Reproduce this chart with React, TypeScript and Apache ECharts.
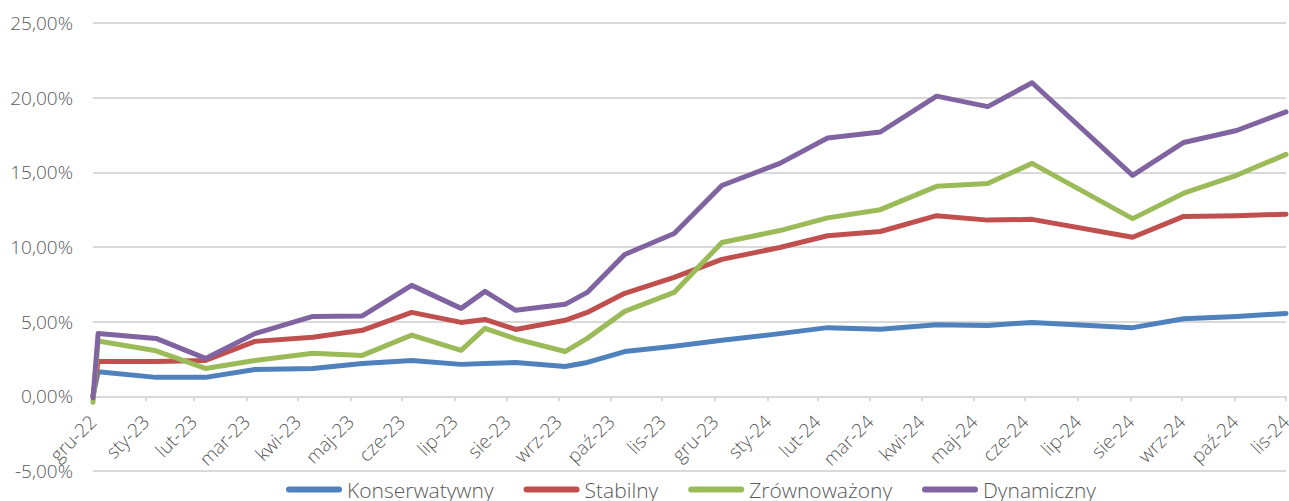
import React, { useEffect, useRef } from "react";
import * as echarts from "echarts";

// Observation dates (yyyy-mm-dd)
const dates: string[] = [
  "2022-12-31", "2023-01-03", "2023-02-06", "2023-03-07", "2023-04-05",
  "2023-05-09", "2023-06-07", "2023-07-06", "2023-08-04", "2023-08-18",
  "2023-09-05", "2023-10-04", "2023-10-17", "2023-11-08", "2023-12-07",
  "2024-01-04", "2024-02-07", "2024-03-06", "2024-04-06", "2024-05-09",
  "2024-06-08", "2024-07-04", "2024-09-01", "2024-10-01", "2024-11-01",
  "2024-11-30",
];

const konserwatywny: number[] = [
  0.0, 1.65, 1.27, 1.27, 1.8, 1.87, 2.2, 2.4, 2.14, 2.2,
  2.27, 2.0, 2.27, 3.0, 3.35, 3.75, 4.2, 4.6, 4.5, 4.8,
  4.75, 4.95, 4.6, 5.2, 5.35, 5.55,
];
const stabilny: number[] = [
  0.0, 2.34, 2.34, 2.4, 3.68, 3.95, 4.42, 5.62, 4.95, 5.15,
  4.48, 5.09, 5.62, 6.9, 7.97, 9.17, 9.97, 10.75, 11.04, 12.1,
  11.8, 11.85, 10.65, 12.05, 12.1, 12.2,
];
const zrownowazony: number[] = [
  -0.4, 3.7, 3.05, 1.87, 2.4, 2.88, 2.74, 4.1, 3.08, 4.55,
  3.85, 3.0, 3.88, 5.69, 6.96, 10.3, 11.1, 11.95, 12.5, 14.06,
  14.25, 15.6, 11.9, 13.6, 14.8, 16.2,
];
const dynamiczny: number[] = [
  -0.1, 4.2, 3.88, 2.54, 4.2, 5.35, 5.38, 7.43, 5.89, 7.03,
  5.76, 6.16, 6.96, 9.5, 10.9, 14.12, 15.6, 17.3, 17.7, 20.1,
  19.4, 21.0, 14.8, 17.0, 17.8, 19.05,
];

const seriesNames: string[] = ["Konserwatywny", "Stabilny", "Zrównoważony", "Dynamiczny"];
const seriesColors: string[] = ["#4f81bd", "#c0504d", "#9bbb59", "#8064a2"];

// Axis tick dates (month ends) and labels
const tickDates: string[] = [
  "2022-12-31", "2023-01-31", "2023-02-28", "2023-03-31", "2023-04-30",
  "2023-05-31", "2023-06-30", "2023-07-31", "2023-08-31", "2023-09-30",
  "2023-10-31", "2023-11-30", "2023-12-31", "2024-01-31", "2024-02-29",
  "2024-03-31", "2024-04-30", "2024-05-31", "2024-06-30", "2024-07-31",
  "2024-08-31", "2024-09-30", "2024-10-31", "2024-11-30",
];
const tickLabels: string[] = [
  "gru-22", "sty-23", "lut-23", "mar-23", "kwi-23", "maj-23", "cze-23",
  "lip-23", "sie-23", "wrz-23", "paź-23", "lis-23", "gru-23", "sty-24",
  "lut-24", "mar-24", "kwi-24", "maj-24", "cze-24", "lip-24", "sie-24",
  "wrz-24", "paź-24", "lis-24",
];

const yMin = -5;
const yMax = 25;
const yStep = 5;

// days elapsed since the first tick date
function toDay(s: string): number {
  const [y, m, d] = s.split("-").map(Number);
  const [y0, m0, d0] = tickDates[0].split("-").map(Number);
  return Math.round((Date.UTC(y, m - 1, d) - Date.UTC(y0, m0 - 1, d0)) / 86400000);
}

const FONT = "'Open Sans', 'DejaVu Sans Condensed', sans-serif";
const WEIGHT = 300;
const TEXT = "#595959";
const GRID = "#d9d9d9";

const GRID_TOP = 23;
const GRID_BOTTOM = 30;
const HEIGHT = 501;

export default function App() {
  const ref = useRef<HTMLDivElement>(null);

  useEffect(() => {
    if (!ref.current) return;
    const chart = echarts.init(ref.current, undefined, { renderer: "svg" });
    const tickDays = tickDates.map(toDay);
    const all = [konserwatywny, stabilny, zrownowazony, dynamiczny];
    const legendIcon =
      "path://M3,0 L53,0 A3,3 0 0 1 53,6 L3,6 A3,3 0 0 1 3,0 Z";
    // distance (px) between the bottom of the grid and the zero line
    const plotH = HEIGHT - GRID_TOP - GRID_BOTTOM;
    const zeroOffset = (plotH * (0 - yMin)) / (yMax - yMin);

    chart.setOption({
      animation: false,
      backgroundColor: "#ffffff",
      textStyle: { fontFamily: FONT, fontWeight: WEIGHT },
      grid: {
        left: 93,
        right: 3,
        top: GRID_TOP,
        bottom: GRID_BOTTOM,
        containLabel: false,
        outerBoundsMode: "none",
      },
      xAxis: {
        type: "value",
        min: tickDays[0],
        max: tickDays[tickDays.length - 1],
        position: "bottom",
        offset: -zeroOffset,
        axisLine: { show: true, onZero: false, lineStyle: { color: GRID, width: 2 } },
        axisTick: {
          show: true,
          length: 5,
          lineStyle: { color: GRID, width: 2 },
          customValues: tickDays,
        },
        axisLabel: {
          customValues: tickDays,
          rotate: 45,
          margin: 22,
          color: TEXT,
          fontSize: 19,
          fontFamily: FONT,
          fontWeight: WEIGHT,
          hideOverlap: false,
          showMinLabel: true,
          showMaxLabel: true,
          formatter: (v: number) => {
            const i = tickDays.indexOf(Math.round(v));
            return i >= 0 ? tickLabels[i] : "";
          },
        },
        splitLine: { show: false },
      },
      yAxis: {
        type: "value",
        min: yMin,
        max: yMax,
        interval: yStep,
        axisLine: { show: false, onZero: false },
        axisTick: { show: false },
        axisLabel: {
          color: TEXT,
          fontSize: 19,
          fontFamily: FONT,
          fontWeight: WEIGHT,
          margin: 20,
          padding: [0, 0, 4, 0],
          formatter: (v: number) => v.toFixed(2).replace(".", ",") + "%",
        },
        splitLine: { lineStyle: { color: GRID, width: 2 } },
      },
      legend: {
        left: 286,
        top: 479,
        padding: 0,
        itemGap: 30,
        itemWidth: 56,
        itemHeight: 6,
        textStyle: { color: TEXT, fontSize: 21, fontFamily: FONT, fontWeight: WEIGHT },
        data: seriesNames.map((n, i) => ({
          name: n,
          icon: legendIcon,
          itemStyle: { color: seriesColors[i] },
        })),
      },
      series: all.map((vals, i) => ({
        name: seriesNames[i],
        type: "line",
        showSymbol: false,
        symbol: "none",
        color: seriesColors[i],
        lineStyle: { width: 5, color: seriesColors[i], cap: "round", join: "round" },
        data: vals.map((v, j) => [toDay(dates[j]), v]),
      })),
    });

    return () => chart.dispose();
  }, []);

  return (
    <div
      ref={ref}
      style={{ position: "fixed", left: 0, top: 0, width: 1289, height: HEIGHT }}
    />
  );
}
